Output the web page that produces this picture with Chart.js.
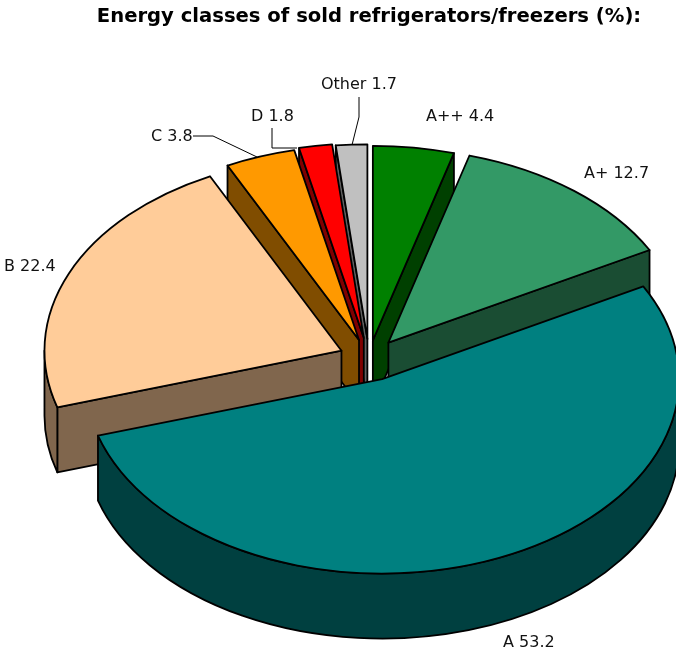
<!DOCTYPE html>
<html>
<head>
<meta charset="utf-8">
<style>
  html, body { margin: 0; padding: 0; background: #fff; }
  #wrap { width: 676px; height: 655px; }
</style>
<script src="https://cdn.jsdelivr.net/npm/chart.js@4"></script>
</head>
<body>
<div id="wrap"><canvas id="energyPie" width="676" height="655"></canvas></div>
<script>
const titleText = 'Energy classes of sold refrigerators/freezers (%):';
const classes = ['A++', 'A+', 'A', 'B', 'C', 'D', 'Other'];
const shares = [4.4, 12.7, 53.2, 22.4, 3.8, 1.8, 1.7];
const topColors = ['#008000', '#339966', '#008080', '#FFCC99', '#FF9900', '#FF0000', '#C0C0C0'];
const sideColors = ['#004000', '#1A4D33', '#004040', '#80664D', '#804D00', '#800000', '#606060'];

const FONT = '"DejaVu Sans", Verdana, sans-serif';
const SQUASH = 0.655;   // ellipse height / width
const DEPTH = 65;       // height of the extruded side
const EXPLODE = [28, 31, 34, 30, 30, 32, 30];
const DRAW_ORDER = [0, 1, 6, 5, 4, 3, 2]; // back to front

// label anchors (left, middle) and leader lines, same order as classes
const LABEL_XY = [[426, 117], [584, 174], [503, 643], [4, 267], [151, 137], [251, 117], [321, 85]];
const LEADERS = [
  null, null, null, null,
  [[193, 136], [213, 136], [257, 157]],
  [[272, 128], [272, 148], [297, 148]],
  [[359, 97], [359, 117], [352, 145]]
];

function drawSlice(ctx, el, i) {
  const p = el.getProps(['x', 'y', 'startAngle', 'endAngle', 'outerRadius'], true);
  const mid = (p.startAngle + p.endAngle) / 2;
  const cx = p.x + EXPLODE[i] * Math.cos(mid);
  const cy = p.y + EXPLODE[i] * SQUASH * Math.sin(mid);
  const rx = p.outerRadius;
  const ry = rx * SQUASH;

  function edge(t) { return [cx + rx * Math.cos(t), cy + ry * Math.sin(t)]; }
  function wall(t) {
    const e = edge(t);
    ctx.beginPath();
    ctx.moveTo(cx, cy);
    ctx.lineTo(e[0], e[1]);
    ctx.lineTo(e[0], e[1] + DEPTH);
    ctx.lineTo(cx, cy + DEPTH);
    ctx.closePath();
    ctx.fill();
    ctx.stroke();
  }

  ctx.fillStyle = sideColors[i];
  if (Math.cos(p.startAngle) < 0) wall(p.startAngle);
  if (Math.cos(p.endAngle) > 0) wall(p.endAngle);

  // outer rim, only the part facing the viewer
  const a = Math.max(p.startAngle, 0);
  const b = Math.min(p.endAngle, Math.PI);
  if (b > a) {
    ctx.beginPath();
    ctx.ellipse(cx, cy, rx, ry, 0, a, b);
    ctx.ellipse(cx, cy + DEPTH, rx, ry, 0, b, a, true);
    ctx.closePath();
    ctx.fill();
    ctx.stroke();
  }

  ctx.fillStyle = topColors[i];
  ctx.beginPath();
  ctx.moveTo(cx, cy);
  ctx.ellipse(cx, cy, rx, ry, 0, p.startAngle, p.endAngle);
  ctx.closePath();
  ctx.fill();
  ctx.stroke();
}

const pie3d = {
  id: 'pie3d',
  beforeDatasetsDraw(chart) {
    const ctx = chart.ctx;
    const arcs = chart.getDatasetMeta(0).data;
    ctx.save();
    ctx.lineJoin = 'round';
    ctx.strokeStyle = '#000';
    ctx.lineWidth = 1;
    LEADERS.forEach(pts => {
      if (!pts) return;
      ctx.beginPath();
      pts.forEach((pt, n) => n ? ctx.lineTo(pt[0], pt[1]) : ctx.moveTo(pt[0], pt[1]));
      ctx.stroke();
    });
    ctx.lineWidth = 1.8;
    DRAW_ORDER.forEach(i => drawSlice(ctx, arcs[i], i));
    ctx.fillStyle = '#111';
    ctx.font = '16px ' + FONT;
    ctx.textAlign = 'left';
    ctx.textBaseline = 'middle';
    classes.forEach((c, i) => ctx.fillText(c + ' ' + shares[i], LABEL_XY[i][0], LABEL_XY[i][1]));
    ctx.restore();
    return false;
  }
};

new Chart(document.getElementById('energyPie'), {
  type: 'pie',
  data: {
    labels: classes,
    datasets: [{ data: shares, backgroundColor: topColors, borderColor: '#000', borderWidth: 0 }]
  },
  options: {
    responsive: false,
    animation: false,
    radius: 297,
    layout: { padding: { left: 64, right: 2 } },
    plugins: {
      legend: { display: false },
      tooltip: { enabled: false },
      title: {
        display: true,
        text: titleText,
        color: '#000',
        font: { family: FONT, size: 19.6, weight: 'bold' },
        padding: { top: 5, bottom: 33.5 }
      }
    }
  },
  plugins: [pie3d]
});
</script>
</body>
</html>
